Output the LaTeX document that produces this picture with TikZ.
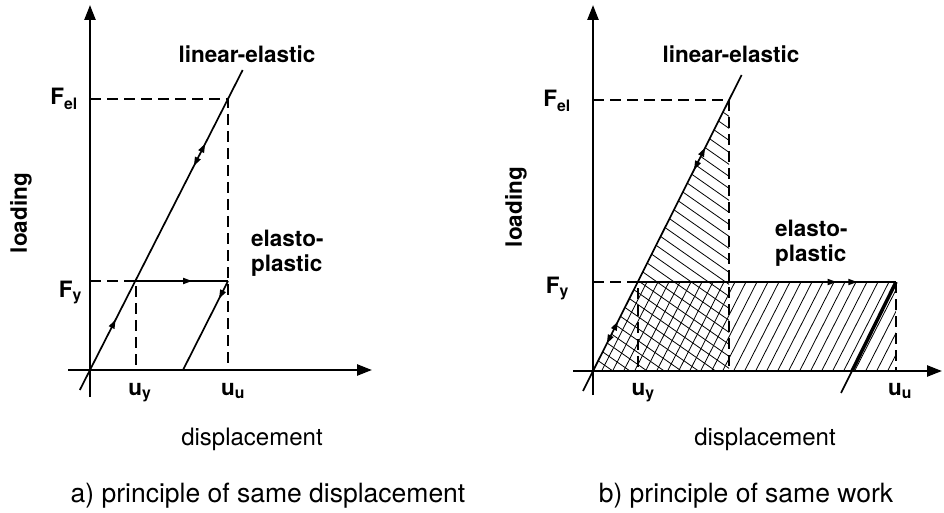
\documentclass[tikz,border=0pt]{standalone}
\usepackage{fontspec}
\setmainfont{TeX Gyre Heros}
\usetikzlibrary{arrows.meta,calc,decorations.markings}

\begin{document}
\begin{tikzpicture}[
  x=1pt,
  y=1pt,
  >={Triangle[length=9pt,width=6pt]},
  axis/.style={line width=2.4pt,-{Triangle[length=15pt,width=11pt]}},
  curve/.style={line width=1.7pt},
  guide/.style={line width=1.6pt,dash pattern=on 11pt off 6pt},
  hatchline/.style={line width=0.8pt},
  plotlabel/.style={font=\fontsize{22.5}{25}\selectfont\bfseries,inner sep=0pt},
  axislabel/.style={font=\fontsize{24}{26}\selectfont,inner sep=0pt},
  caption/.style={font=\fontsize{26.5}{28}\selectfont,inner sep=0pt},
  arrowsat/.style={postaction={decorate},decoration={markings,#1}}
]
\useasboundingbox (0,0) rectangle (944,512);

% ---------------- a) principle of same displacement
\coordinate (O1) at (90,142);
\coordinate (yb1) at (90,115);
\coordinate (yt1) at (90,507);
\coordinate (xb1) at (68,142);
\coordinate (xt1) at (372,142);
\coordinate (eb1) at (79.8,122);
\coordinate (et1) at (242.7,442);
\coordinate (Y1) at (136,231);
\coordinate (EL1) at (228,413);
\coordinate (U1) at (228,231);
\coordinate (R1) at (183,142);
\coordinate (fe1) at (90,413);
\coordinate (fy1) at (90,231);
\coordinate (uy1) at (136,142);
\coordinate (uu1) at (228,142);

% Axes
\draw[axis] (yb1) -- (yt1);
\draw[axis] (xb1) -- (xt1);

% Guides
\draw[guide] (fe1) -- (EL1) -- (uu1);
\draw[guide] (fy1) -- (Y1) -- (uy1);

% Load paths
\draw[curve,arrowsat={mark=at position 0.22 with {\arrow{>}},
  mark=at position 0.70 with {\arrowreversed{>}},
  mark=at position 0.77 with {\arrow{>}}}] (eb1) -- (et1);
\draw[curve,arrowsat={mark=at position 0.61 with {\arrow{>}}}] (Y1) -- (U1);
\draw[curve,arrowsat={mark=at position 0.20 with {\arrow{>}}}] (U1) -- (R1);

% Labels
\node[plotlabel,anchor=base] (le1) at (247,449) {linear-elastic};
\node[plotlabel,anchor=base east] (Fel1) at (78,407) {F\textsubscript{el}};
\node[plotlabel,anchor=base east] (Fy1) at (82,215) {F\textsubscript{y}};
\node[plotlabel,anchor=base] (luy1) at (140,117) {u\textsubscript{y}};
\node[plotlabel,anchor=base] (luu1) at (233,117) {u\textsubscript{u}};
\node[plotlabel,anchor=north west,align=left] (ep1) at (251,282) {elasto-\\plastic};
\node[plotlabel,rotate=90] (load1) at (21,299) {loading};
\node[axislabel,anchor=base] (disp1) at (252,67) {displacement};
\node[caption,anchor=base] (capa) at (268,10) {a) principle of same displacement};

% ---------------- b) principle of same work
\coordinate (O2) at (593,141);
\coordinate (yb2) at (593,117);
\coordinate (yt2) at (593,507);
\coordinate (xb2) at (573,141);
\coordinate (xt2) at (942,141);
\coordinate (eb2) at (583,121);
\coordinate (et2) at (741.6,437);
\coordinate (Y2) at (638,230);
\coordinate (EL2) at (729,412);
\coordinate (D2) at (729,141);
\coordinate (U2) at (896,230);
\coordinate (R2) at (852,141);
\coordinate (Rend2) at (841,119);
\coordinate (fe2) at (593,412);
\coordinate (fy2) at (593,230);
\coordinate (uy2) at (638,141);
\coordinate (uu2) at (896,141);

% Work areas
\begin{scope}
  \clip (O2) -- (EL2) -- (D2) -- cycle;
  \foreach \y in {130,142,...,574}
    \draw[hatchline] (560,\y) -- ++(-35:260);
\end{scope}
\begin{scope}
  \clip (O2) -- (Y2) -- (U2) -- (uu2) -- cycle;
  \foreach \x in {530,541,...,910}
    \draw[hatchline] (\x,130) -- ++(63:130);
\end{scope}

% Axes
\draw[axis] (yb2) -- (yt2);
\draw[axis] (xb2) -- (xt2);

% Guides
\draw[guide] (fe2) -- (EL2) -- (D2);
\draw[guide] (fy2) -- (Y2) -- (uy2);
\draw[guide] (U2) -- (uu2);

% Load paths
\draw[curve,arrowsat={mark=at position 0.15 with {\arrowreversed{>}},
  mark=at position 0.22 with {\arrow{>}},
  mark=at position 0.70 with {\arrowreversed{>}},
  mark=at position 0.77 with {\arrow{>}}}] (eb2) -- (et2);
\draw[curve,arrowsat={mark=at position 0.77 with {\arrow{>}},
  mark=at position 0.85 with {\arrow{>}}}] (Y2) -- (U2);
\draw[line width=3.5pt] (U2) -- (R2);
\draw[curve] (R2) -- (Rend2);

% Labels
\node[plotlabel,anchor=base] (le2) at (731,449) {linear-elastic};
\node[plotlabel,anchor=base east] (Fel2) at (571,405) {F\textsubscript{el}};
\node[plotlabel,anchor=base east] (Fy2) at (569,219) {F\textsubscript{y}};
\node[plotlabel,anchor=base] (luy2) at (643,117) {u\textsubscript{y}};
\node[plotlabel,anchor=base] (luu2) at (900,117) {u\textsubscript{u}};
\node[plotlabel,anchor=north west,align=left] (ep2) at (775,292) {elasto-\\plastic};
\node[plotlabel,rotate=90] (load2) at (516,305) {loading};
\node[axislabel,anchor=base] (disp2) at (765,67) {displacement};
\node[caption,anchor=base] (capb) at (746,10) {b) principle of same work};

\end{tikzpicture}
\end{document}
